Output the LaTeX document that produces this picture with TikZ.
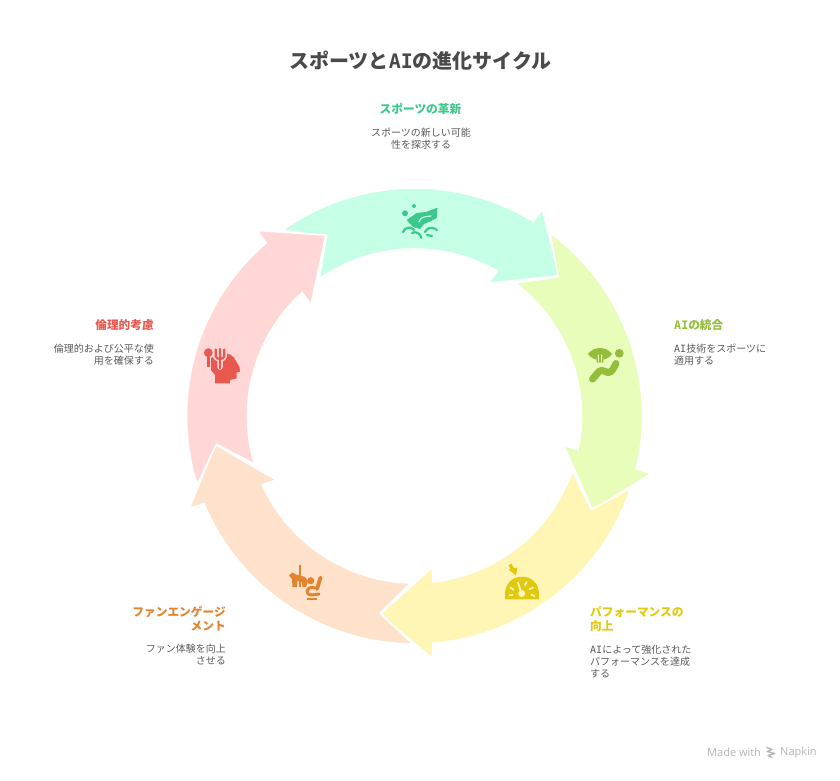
\documentclass[tikz,border=0pt]{standalone}
\usepackage{fontspec}
\setmainfont{Noto Sans CJK JP}
\newfontfamily\napkinfont{Open Sans}
\newfontfamily\latinfont{DejaVu Sans Mono}
\usepackage{tikz}

\definecolor{innofill}{HTML}{C5FFE6}
\definecolor{innoink}{HTML}{3CC88A}
\definecolor{aifill}{HTML}{E8FDB9}
\definecolor{aiink}{HTML}{93BD3A}
\definecolor{perffill}{HTML}{FFF6B6}
\definecolor{perfink}{HTML}{E0C90F}
\definecolor{fanfill}{HTML}{FFE2CB}
\definecolor{fanink}{HTML}{E0842F}
\definecolor{ethfill}{HTML}{FFD7D7}
\definecolor{ethink}{HTML}{E8584F}
\definecolor{titleink}{HTML}{4A4A4A}
\definecolor{textink}{HTML}{5A5A5A}
\definecolor{footink}{HTML}{B4B4B4}

\newcommand{\ringarrow}[2]{
    \draw[ringshape, shift={(414.5,-416)}, rotate=#1, fill=#2]
        (125.5:228) arc[start angle=125.5, end angle=58.6, radius=228]
        -- (58.3:243.2) -- (44.1:201.5) -- (60.9:152) -- (60.3:167)
        arc[start angle=60.3, end angle=124.8, radius=167]
        -- (116.1:200) -- cycle;
}
\newcommand{\ailabel}{{\latinfont AI}}

\begin{document}
\begin{tikzpicture}[x=1pt, y=1pt,
        ringshape/.style={draw=white, line width=1.6pt, line join=miter},
        heading/.style={inner sep=0pt, font=\fontsize{11.7}{14}\selectfont\bfseries},
        blurb/.style={inner sep=0pt, text=textink, font=\fontsize{10}{12}\selectfont},
        stroke/.style={line cap=round, line join=round}]
    \useasboundingbox (0,0) rectangle (840,-780);

    % ring
    \ringarrow{0}{innofill}
    \ringarrow{-72}{aifill}
    \ringarrow{-144}{perffill}
    \ringarrow{-216}{fanfill}
    \ringarrow{-288}{ethfill}

    % texts
    \node[text=titleink, inner sep=0pt, font=\fontsize{20}{24}\selectfont\bfseries] (title) at (420.5,-61) {スポーツと\ailabel の進化サイクル};

    \node[heading, text=innoink] (inno) at (420.5,-109) {スポーツの革新};
    \node[blurb, align=center] (innotext) at (421,-139) {スポーツの新しい可能\\性を探求する};

    \node[heading, text=aiink, anchor=west] (ai) at (674,-325) {\ailabel の統合};
    \node[blurb, align=left, anchor=west] (aitext) at (674,-355) {\ailabel 技術をスポーツに\\適用する};

    \node[heading, text=perfink, align=left, anchor=west] (perf) at (590,-619) {パフォーマンスの\\向上};
    \node[blurb, align=left, anchor=west] (perftext) at (590,-662) {\ailabel によって強化された\\パフォーマンスを達成\\する};

    \node[heading, text=fanink, align=right, anchor=east] (fan) at (226,-619) {ファンエンゲージ\\メント};
    \node[blurb, align=right, anchor=east] (fantext) at (226,-654.5) {ファン体験を向上\\させる};

    \node[heading, text=ethink, anchor=east] (eth) at (154,-325) {倫理的考慮};
    \node[blurb, align=right, anchor=east] (ethtext) at (154,-355) {倫理的および公平な使\\用を確保する};

    % sports icon
    \fill[innoink] (405,-213.3) circle (3) (414,-206) circle (2);
    \fill[innoink] (437.3,-207.7) -- (436.7,-218) -- (431,-221) -- (424,-224) -- (420,-229) -- (413,-227) -- (406.7,-220)
        -- (416.7,-213) -- (426,-212) -- cycle;
    \draw[innofill, line width=1.2pt, stroke] (419,-222) .. controls (421,-216) and (425,-217) .. (431,-216);
    \draw[innoink, line width=2.2pt, stroke] (403,-232) .. controls (405,-227) and (411,-226) .. (414,-230)
        (412,-233) .. controls (416,-231) and (420,-233) .. (421.5,-238)
        (425,-232) .. controls (427,-228) and (431,-226) .. (437,-230)
        (427,-235) -- (432,-236);

    % ai icon
    \fill[aiink] (619.3,-353.3) circle (4.4);
    \draw[aiink, line width=7pt, stroke] (592.5,-379) -- (599,-371.5) .. controls (602,-369) and (605,-372) .. (608,-372.5)
        .. controls (612,-373) and (614,-367) .. (616,-363.5);
    \fill[aiink] (588,-354) .. controls (594,-346) and (606,-346) .. (612,-354) .. controls (609,-358) and (606,-359) .. (604,-359.5)
        .. controls (606,-352) and (594,-352) .. (596,-359.5) .. controls (594,-359) and (591,-358) .. cycle;
    \draw[aiink, line width=1.6pt, stroke] (596.5,-352) -- (597.5,-362) (600,-352) -- (600,-362) (603.5,-352) -- (602.5,-362);

    % performance icon
    \fill[perfink] (505,-599.3) -- (505,-594) .. controls (505,-584) and (512,-576.7) .. (522,-576.7)
        .. controls (532,-576.7) and (539,-584) .. (539,-594) -- (539,-599.3) -- cycle;
    \fill[perffill] (521.7,-593.5) circle (3.5);
    \draw[perffill, line width=1.8pt, stroke] (521,-592) -- (518,-582.5) (510.5,-587.5) -- (513.5,-589.8) (509.5,-595.3) -- (512.5,-594.8)
        (533,-587.5) -- (529.5,-589.3) (534.5,-596) -- (531.5,-594.8) (526.5,-582) -- (525,-585);
    \draw[perfink, line width=3.4pt] (510,-564.5) -- (513.5,-571);
    \fill[perfink] (508.5,-569.5) -- (517.5,-567.5) -- (516,-575.5) -- cycle;

    % fan icon
    \draw[fanink, line width=2pt] (300,-564.5) -- (300,-586.5);
    \fill[fanink] (289,-575.5) -- (292.5,-572.5) -- (296,-574.5) -- (305,-577) -- (308,-581) -- (306,-587) -- (302.5,-587)
        -- (302,-582) -- (297.5,-581) -- (297,-587) -- (292.5,-587) -- (292,-579) -- cycle;
    \fill[fanink] (310.7,-580.7) circle (3.6);
    \draw[fanink, line width=3.8pt, stroke] (320.5,-577.5) -- (317,-589);
    \draw[fanink, line width=3pt, stroke] (315,-588) .. controls (306,-585) and (304,-595) .. (312,-595) -- (319,-594);
    \draw[fanink, line width=1.2pt] (306.8,-599) -- (316.8,-599);

    % ethics icon
    \fill[ethink] (221.7,-352.7) .. controls (229,-352.5) and (234,-356) .. (236,-361) -- (239.5,-367) -- (240,-371.7) -- (236.7,-372.5)
        -- (236.7,-378.3) -- (230,-380) -- (230,-383.3) -- (215,-383.3) -- (215,-375) -- (211,-370) -- (211,-358) -- cycle;
    \draw[ethfill, line width=5.5pt, stroke] (215.7,-351) -- (215.7,-356) .. controls (215.7,-360) and (224.3,-360) .. (224.3,-356) -- (224.3,-351)
        (220,-350) -- (220,-367);
    \draw[ethink, line width=2.2pt, stroke] (215.7,-349.5) -- (215.7,-356) .. controls (215.7,-360) and (224.3,-360) .. (224.3,-356) -- (224.3,-349.5)
        (220,-349) -- (220,-368);
    \fill[ethink] (208.3,-352.7) circle (4.4);
    \draw[ethink, line width=2.8pt] (208.3,-355) -- (208.3,-367);

    % footer
    \node[text=footink, inner sep=0pt, anchor=west, font=\fontsize{11}{13}\selectfont\napkinfont] (made) at (707,-752.5) {Made with};
    \node[text=footink, inner sep=0pt, anchor=west, font=\fontsize{11}{13}\selectfont\napkinfont] (napkin) at (780,-752.5) {Napkin};
    \draw[footink, line width=1.3pt, stroke] (767,-747.5) -- (772,-749.5) -- (767,-751.5) -- (775,-753.5) -- (768,-755.5) -- (772,-757.5);
\end{tikzpicture}
\end{document}
